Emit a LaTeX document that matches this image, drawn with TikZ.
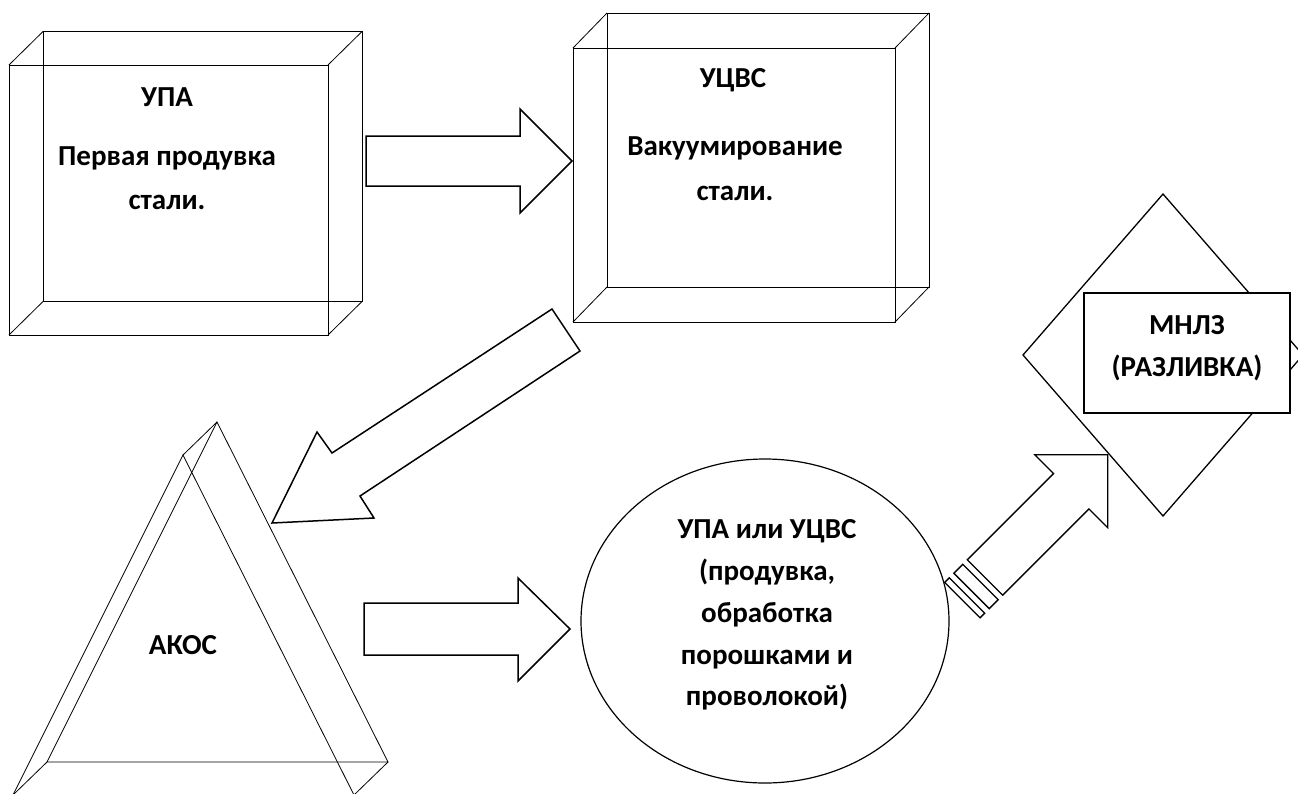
\documentclass[tikz,border=0pt]{standalone}
\usepackage{fontspec}
\setmainfont{Carlito}
\usetikzlibrary{calc}
\tikzset{
  wire/.style={draw, line width=0.8pt, line join=miter},
  block/.style={draw, line width=1.5pt, fill=white, line join=miter},
  outline/.style={draw, line width=1.2pt},
  lbl/.style={font=\fontsize{29}{44.5}\selectfont\bfseries, align=center, inner sep=0pt},
  lblc/.style={lbl, font=\fontsize{29}{41.8}\selectfont\bfseries},
}
% wire-frame box: front corners (#1,#2)-(#3,#4), depth offset (#5,#6)
\newcommand\wireprism[6]{%
  \draw[wire] (#1,#2) rectangle (#3,#4);
  \draw[wire] ($(#1,#2)+(#5,#6)$) rectangle ($(#3,#4)+(#5,#6)$);
  \draw[wire] (#1,#2) -- ++(#5,#6);
  \draw[wire] (#3,#2) -- ++(#5,#6);
  \draw[wire] (#1,#4) -- ++(#5,#6);
  \draw[wire] (#3,#4) -- ++(#5,#6);
}
\begin{document}
\begin{tikzpicture}[x=1pt,y=-1pt]
\useasboundingbox (0,0) rectangle (1298,793);
\clip (0,0) rectangle (1298,793);

% --- УПА box
\wireprism{9}{65}{328}{335}{34}{-33.5}
\node[lbl] (upaT) at (167,97) {УПА};
\node[lbl] (upaB) at (167,178) {Первая продувка\\стали.};

% --- УЦВС box
\wireprism{573}{48}{895}{322}{34}{-35}
\node[lbl] (ucvsT) at (733,80) {УЦВС};
\node[lbl] (ucvsB) at (735,168.5) {Вакуумирование\\стали.};

% --- АКОС prism
\coordinate (tA) at (217,422);
\coordinate (tL) at (47,762);
\coordinate (tR) at (388,762);
\coordinate (fA) at (183,455);
\coordinate (fL) at (13,795);
\coordinate (fR) at (354,795);
\draw[wire] (tA) -- (tL) -- (tR) -- cycle;
\draw[wire] (fA) -- (fL) -- (fR) -- cycle;
\draw[wire] (tA) -- (fA) (tL) -- (fL) (tR) -- (fR);
\node[lbl] (akos) at (183,645) {АКОС};

% --- ladle treatment (circle)
\draw[outline] (765,621) ellipse [x radius=184, y radius=162];
\node[lblc] (treat) at (767,615) {УПА или УЦВС\\(продувка,\\обработка\\порошками и\\проволокой)};

% --- casting machine
\draw[draw, line width=1.3pt] (1163,194) -- (1303,355) -- (1163,516) -- (1023,355) -- cycle;
\draw[draw, line width=1.3pt, fill=white] (1084,293) rectangle (1290,413);
\node[lblc] (mnlz) at (1187,348.5) {МНЛЗ\\(РАЗЛИВКА)};

% --- block arrows
\draw[block] (366,136) -- (520,136) -- (520,109) -- (572,161) -- (520,213) -- (520,186) -- (366,186) -- cycle;
\draw[block] (552,309) -- (580,351) -- (360,496) -- (374,518) -- (272,523) -- (317,432) -- (332,453) -- cycle;
\draw[block] (364,603) -- (518,603) -- (518,578) -- (570,629) -- (518,681) -- (518,655) -- (364,655) -- cycle;

% striped arrow towards the casting machine
\begin{scope}[shift={(985,577.5)}, rotate=45]
  \draw[block, line width=1.3pt] (0,-25) -- (122,-25) -- (122,-51.5) -- (173.6,0) -- (122,51.5) -- (122,25) -- (0,25) -- cycle;
  \draw[block, line width=1.3pt] (-6.4,-25) rectangle (-19,25);
  \draw[block, line width=1.3pt] (-25.5,-25) rectangle (-32,25);
\end{scope}
\end{tikzpicture}
\end{document}
